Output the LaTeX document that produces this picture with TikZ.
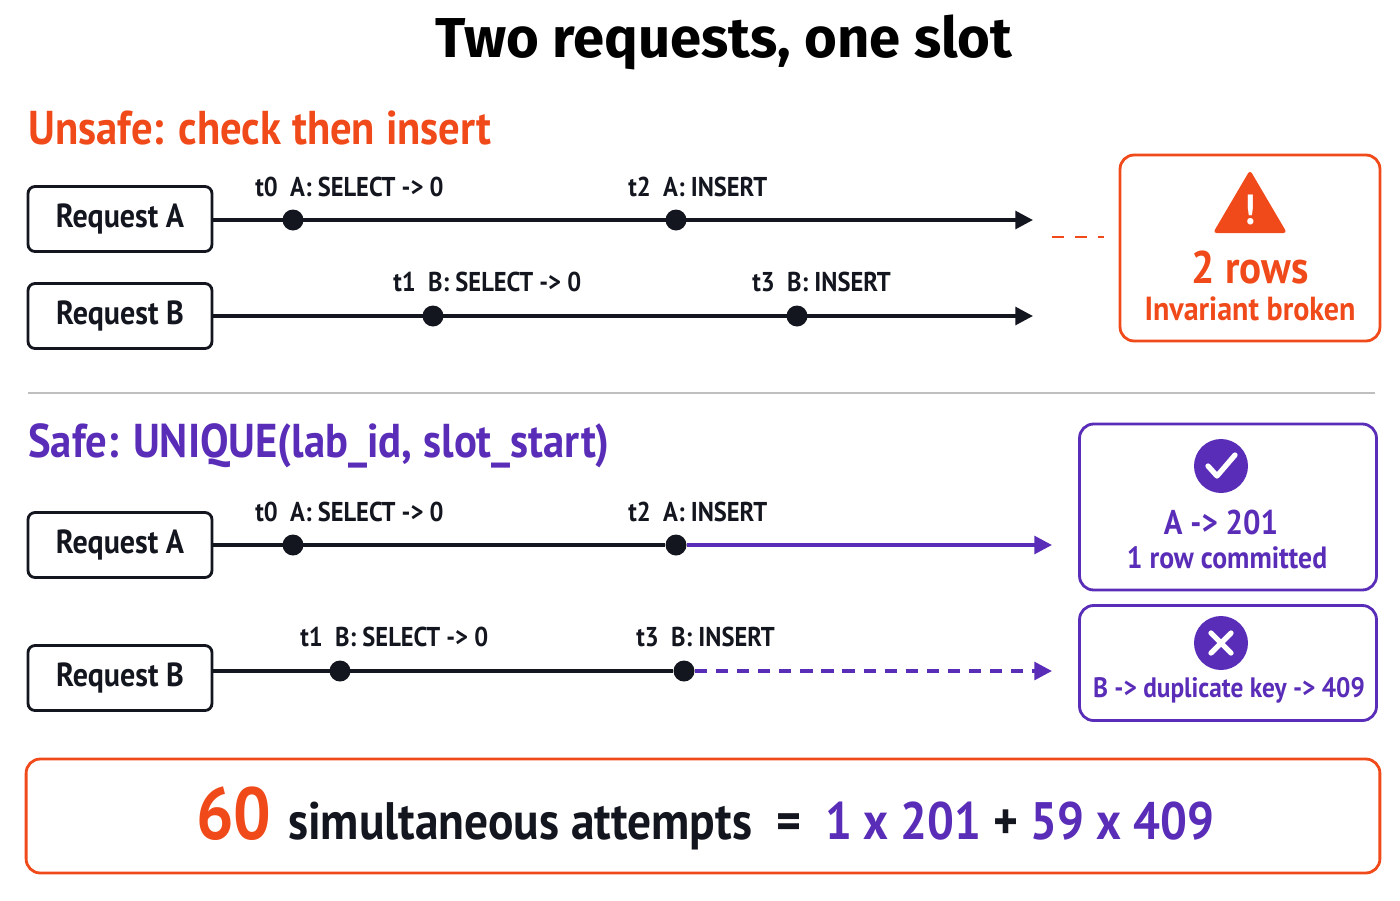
\documentclass[tikz,border=0pt]{standalone}
\usepackage{fontspec}
\setmainfont[FakeStretch=0.9]{PT Sans}
\newfontfamily\titlefont{Fira Sans}
\usetikzlibrary{arrows.meta,positioning}
\definecolor{unsafe}{HTML}{F04A1A}
\definecolor{safe}{HTML}{5A2DB8}
\definecolor{ink}{HTML}{14161F}
\tikzset{
  req/.style={draw=ink, line width=1.6pt, rounded corners=4pt, minimum width=3.68cm, minimum height=1.3cm, font=\fontsize{19}{22}\selectfont\bfseries, text=ink},
  track/.style={draw=ink, line width=2.1pt},
  dot/.style={circle, fill=ink, inner sep=0pt, minimum size=0.42cm},
  stamp/.style={anchor=south west, inner sep=0pt, font=\fontsize{15.5}{18}\selectfont\bfseries, text=ink},
  tip/.style={-{Triangle[length=10pt,width=10pt]}},
  card/.style={line width=1.6pt, rounded corners=8pt},
}
\begin{document}
\begin{tikzpicture}[x=0.02cm, y=-0.02cm]
\useasboundingbox (0,0) rectangle (1400,900);
\node (title) at (724,42) {\titlefont\fontsize{32}{36}\selectfont\bfseries Two requests, one slot};

% unsafe
\node[anchor=west, inner sep=0pt, text=unsafe, font=\fontsize{27}{30}\selectfont\bfseries] (uhead) at (28,128) {Unsafe: check then insert};
\node[req] (ua) at (120,219) {Request A};
\node[req] (ub) at (120,316) {Request B};
\coordinate (uaend) at (1033,220);
\coordinate (ubend) at (1033,316);
\node[dot] (ua0) at (293,220) {};
\node[dot] (ua2) at (676,220) {};
\node[dot] (ub1) at (433,316) {};
\node[dot] (ub3) at (797,316) {};
\draw[track, tip] (ua.east |- uaend) -- (uaend);
\draw[track, tip] (ub.east |- ubend) -- (ubend);
\node[stamp] at (255,197) {t0\ \ A: SELECT -> 0};
\node[stamp] at (628,197) {t2\ \ A: INSERT};
\node[stamp] at (393,292) {t1\ \ B: SELECT -> 0};
\node[stamp] at (752,292) {t3\ \ B: INSERT};
\node[card, draw=unsafe, minimum width=5.2cm, minimum height=3.72cm] (broken) at (1250,248) {};
\coordinate (dashstart) at (1052,237);
\coordinate (dashend) at (1104,237);
\draw[unsafe, line width=1.6pt, dash pattern=on 7pt off 6pt] (dashstart) -- (dashend);
\fill[unsafe, rounded corners=2pt] (1250,170) -- (1287,233) -- (1213,233) -- cycle;
\node[text=white, font=\fontsize{24}{24}\selectfont\bfseries] (bang) at (1250,210) {!};
\node[text=unsafe, font=\fontsize{26}{28}\selectfont\bfseries] (rows) at (1250,268) {2 rows};
\node[text=unsafe, font=\fontsize{19}{22}\selectfont\bfseries] (inv) at (1250,309) {Invariant broken};

\draw[gray!50, line width=0.8pt] (28,393) -- (1375,393);

% safe
\node[anchor=west, inner sep=0pt, text=safe, font=\fontsize{27}{30}\selectfont\bfseries] (shead) at (28,446) {Safe: UNIQUE(lab\_id, slot\_start)};
\node[req] (sa) at (120,545) {Request A};
\node[req] (sb) at (120,678) {Request B};
\coordinate (saend) at (1052,545);
\coordinate (sbend) at (1052,671);
\node[dot] (sa0) at (293,545) {};
\node[dot] (sa2) at (676,545) {};
\node[dot] (sb1) at (340,671) {};
\node[dot] (sb3) at (684,671) {};
\draw[track] (sa.east |- saend) -- (sa2);
\draw[track, draw=safe, tip] (sa2) -- (saend);
\draw[track] (sb.east |- sbend) -- (sb3);
\draw[track, draw=safe, dash pattern=on 7pt off 5pt, tip] (sb3) -- (sbend);
\node[stamp] at (255,522) {t0\ \ A: SELECT -> 0};
\node[stamp] at (628,522) {t2\ \ A: INSERT};
\node[stamp] at (300,647) {t1\ \ B: SELECT -> 0};
\node[stamp] at (636,647) {t3\ \ B: INSERT};

\node[card, draw=safe, minimum width=5.94cm, minimum height=3.32cm] (ok) at (1228,507) {};
\node[circle, fill=safe, minimum size=1.08cm] (check) at (1221,466) {};
\draw[white, line width=3pt, line cap=round, line join=round] (1208,466) -- (1217,476) -- (1235,455);
\node[text=safe, font=\fontsize{19.5}{22}\selectfont\bfseries] (a201) at (1221,522) {A -> 201};
\node[text=safe, font=\fontsize{17.5}{20}\selectfont\bfseries] (commit) at (1227,558) {1 row committed};

\node[card, draw=safe, minimum width=5.94cm, minimum height=2.3cm] (dup) at (1228,663) {};
\node[circle, fill=safe, minimum size=1.08cm] (cross) at (1221,643) {};
\draw[white, line width=3pt, line cap=round] (1211,633) -- (1231,653) (1231,633) -- (1211,653);
\node[text=safe, font=\fontsize{16}{20}\selectfont\bfseries] (b409) at (1229,690) {B -> duplicate key -> 409};

% tally
\node[card, draw=unsafe, minimum width=27.08cm, minimum height=2.28cm] (tally) at (703,816) {};
\node (sum) at (705,818) {\fontsize{42}{40}\selectfont\bfseries\color{unsafe}60\
  \fontsize{30}{30}\selectfont\color{ink}simultaneous attempts\ \ =\ \ \color{safe}1 x 201\ \color{ink}+\ \color{safe}59 x 409};
\end{tikzpicture}
\end{document}
